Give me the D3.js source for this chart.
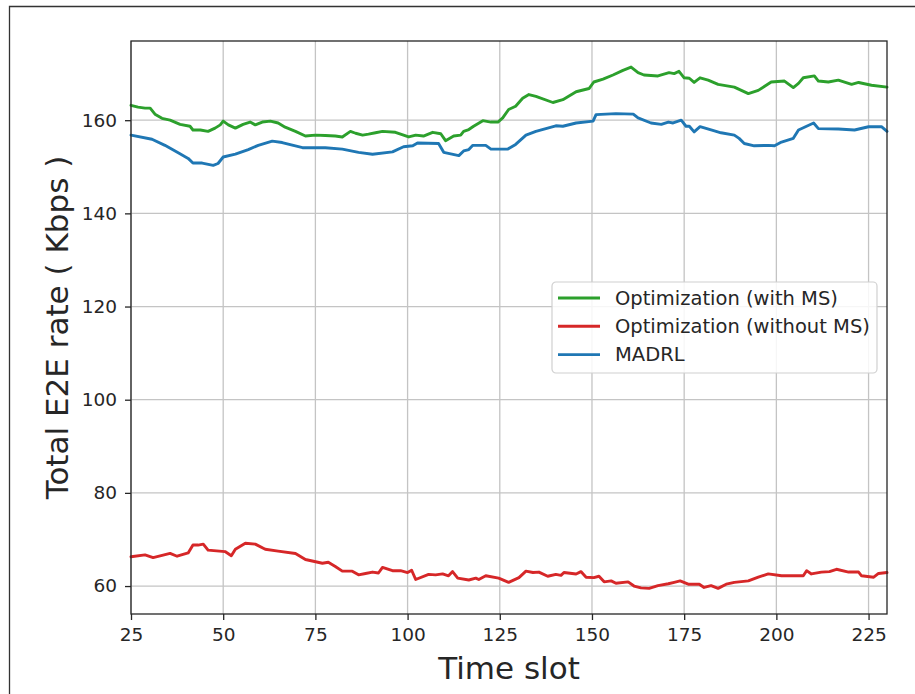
<!DOCTYPE html>
<html>
  <head>
    <meta charset="utf-8">
    <title>Total E2E rate</title>
    <style>
      body { margin: 0; background: #fff; }
      svg { display: block; font-family: "DejaVu Sans", sans-serif; }
    </style>
  </head>
  <body>
    <div id="container"></div>
    <script src="https://cdn.jsdelivr.net/npm/d3@7"></script>
    <script>
      // time slots and rates for each method
      var greenX = [25, 26.9, 28.8, 30.2, 31.5, 33.4, 35.6, 38.3, 41, 41.8, 43.8, 45.9, 47.8, 49.2, 50, 51.4, 53.3, 55.4, 57.3, 58.7,
        60.6, 62.8, 64.9, 66.8, 69.6, 72.3, 75, 77.7, 80.4, 82.3, 84.5, 85.9, 87.8, 89.4, 91.3, 93.2, 96.7, 100.3, 102.2, 104.3,
        106.8, 109, 110.3, 112.5, 114.4, 115.2, 116.6, 117.9, 120.4, 122.6, 124.5, 125.8, 127.4, 129.3, 131.2, 132.9, 134.8, 139.4, 142.1, 145.7,
        149.2, 150.5, 153, 155.7, 158.4, 160.6, 162.5, 164.1, 167.9, 170.9, 172.3, 173.6, 175, 176.4, 177.7, 179.3, 181.5, 184.2, 188.6, 192.4,
        195.1, 198.6, 202.2, 204.6, 206, 207.3, 210.3, 211.4, 214.1, 216.8, 220.4, 222.3, 225.8, 230];
      var greenY = [163.2, 162.8, 162.6, 162.6, 161.3, 160.4, 160, 159.1, 158.7, 157.9, 157.9, 157.6, 158.3, 159, 159.8, 159, 158.3, 159.1, 159.6, 159,
        159.6, 159.8, 159.4, 158.5, 157.6, 156.6, 156.8, 156.7, 156.6, 156.4, 157.6, 157.2, 156.8, 157, 157.3, 157.6, 157.4, 156.4, 156.8, 156.6,
        157.4, 157.1, 155.6, 156.6, 156.8, 157.6, 158, 158.7, 159.9, 159.6, 159.6, 160.5, 162.3, 163, 164.7, 165.5, 165.1, 163.8, 164.4, 166.1,
        166.8, 168.2, 168.8, 169.7, 170.7, 171.4, 170.2, 169.7, 169.5, 170.2, 170, 170.5, 169.1, 169, 168.1, 169.1, 168.6, 167.7, 167.1, 165.7,
        166.4, 168.2, 168.4, 167, 167.9, 169.1, 169.5, 168.4, 168.2, 168.6, 167.7, 168.1, 167.5, 167.1];

      var redX = [25, 28.8, 31, 35.6, 37.5, 40.5, 41.8, 43.2, 44.6, 45.9, 50.5, 52.2, 53.3, 56, 58.7, 61.4, 64.9, 69.6, 72.3, 76.9,
        78.5, 80.4, 82.3, 85, 86.7, 88.6, 90.5, 92.1, 93.2, 95.9, 98.1, 100, 101.1, 102.2, 105.7, 107.6, 109.5, 111.1, 112.2, 113.6,
        116.6, 118.5, 119.3, 121.2, 124.7, 127.4, 130.2, 132.1, 134, 135.6, 138, 140.2, 141.6, 142.4, 145.7, 147, 148.4, 150.5, 151.9, 153.3,
        155.2, 156.5, 159.8, 161.4, 163.3, 165.5, 167.9, 170.7, 172.3, 173.9, 176.1, 179.1, 180.4, 182.3, 184.2, 186.4, 188.6, 192.4, 195.1, 197.8,
        201.4, 207.3, 208.2, 209.5, 212.2, 214.4, 216.3, 219.6, 222.3, 223.1, 226.4, 227.7, 230];
      var redY = [66.3, 66.7, 66.1, 67, 66.4, 67.1, 68.8, 68.8, 69, 67.7, 67.4, 66.5, 67.9, 69.2, 69, 67.9, 67.5, 67, 65.7, 64.9,
        65.1, 64.2, 63.2, 63.2, 62.4, 62.7, 63, 62.8, 64, 63.3, 63.3, 62.9, 63.4, 61.4, 62.5, 62.4, 62.6, 62.2, 63.1, 61.7,
        61.3, 61.7, 61.4, 62.2, 61.7, 60.8, 61.8, 63.2, 62.9, 63, 62.1, 62.5, 62.3, 62.9, 62.6, 63.1, 61.9, 61.8, 62.1, 60.9,
        61.1, 60.6, 60.9, 60, 59.6, 59.5, 60.1, 60.5, 60.8, 61.1, 60.4, 60.4, 59.7, 60.1, 59.5, 60.4, 60.8, 61.1, 61.9, 62.6,
        62.2, 62.2, 63.3, 62.6, 63, 63.1, 63.6, 63, 63, 62.2, 61.9, 62.7, 62.9];

      var blueX = [25, 30.7, 34.2, 37.8, 40.5, 41.8, 44.3, 47.3, 48.6, 50, 53.3, 56.8, 59.5, 63.3, 66, 71.5, 77.7, 82.3, 86.7, 90.5,
        95.9, 98.9, 101.4, 102.7, 108.4, 109.8, 113.9, 115.2, 116.6, 117.7, 121.2, 122.6, 127.2, 129.3, 132.1, 134.8, 140.2, 142.1, 145.7, 150.3,
        151.1, 156.5, 161.2, 162.5, 166, 168.8, 170.7, 172, 174.2, 175.5, 176.4, 177.7, 179.3, 182.3, 185, 188.6, 189.9, 191.3, 194, 197.8,
        199.5, 201.4, 204.6, 206, 210.1, 211.4, 216.8, 221.2, 225, 228.5, 230];
      var blueY = [156.8, 155.9, 154.6, 153, 151.8, 150.8, 150.8, 150.3, 150.7, 152.1, 152.7, 153.7, 154.6, 155.5, 155.2, 154.1, 154.1, 153.8, 153.1, 152.7,
        153.2, 154.3, 154.5, 155.1, 155, 153.1, 152.4, 153.4, 153.7, 154.6, 154.6, 153.8, 153.8, 154.8, 156.8, 157.6, 158.8, 158.7, 159.4, 159.8,
        161.2, 161.4, 161.3, 160.5, 159.4, 159.1, 159.6, 159.4, 160, 158.7, 158.7, 157.5, 158.6, 157.9, 157.3, 156.8, 156.1, 155, 154.5, 154.6,
        154.5, 155.3, 156.1, 157.9, 159.4, 158.2, 158.1, 157.9, 158.6, 158.6, 157.6];

      var seriesNames = ["Optimization (with MS)", "Optimization (without MS)", "MADRL"];
      var seriesColors = ["#2ca02c", "#d62728", "#1f77b4"];
      var xTicks = [25, 50, 75, 100, 125, 150, 175, 200, 225];
      var yTicks = [60, 80, 100, 120, 140, 160];

      var series = [
        {name: seriesNames[0], color: seriesColors[0], xs: greenX, ys: greenY},
        {name: seriesNames[1], color: seriesColors[1], xs: redX, ys: redY},
        {name: seriesNames[2], color: seriesColors[2], xs: blueX, ys: blueY}
      ];

      var W = 915, H = 694;
      var margin = {top: 41, right: 28, bottom: 80, left: 131},
        width = W - margin.left - margin.right,
        height = H - margin.top - margin.bottom;

      var x = d3.scaleLinear().domain([25, 230]).range([0, width]);
      var y = d3.scaleLinear().domain([54, 177]).range([height, 0]);

      var svg = d3.select("#container").append("svg")
        .attr("width", W)
        .attr("height", H);

      svg.append("rect").attr("width", W).attr("height", H).attr("fill", "#fff");

      // figure frame
      svg.append("path")
        .attr("d", "M9.5," + H + "V6.5H" + W)
        .attr("fill", "none")
        .attr("stroke", "#333")
        .attr("stroke-width", 1.3);

      var g = svg.append("g")
        .attr("transform", "translate(" + margin.left + "," + margin.top + ")");

      // grid
      g.append("g").selectAll("line").data(xTicks).enter().append("line")
        .attr("x1", function(d) { return x(d); })
        .attr("x2", function(d) { return x(d); })
        .attr("y1", 0).attr("y2", height)
        .attr("stroke", "#c4c4c4").attr("stroke-width", 1.3);
      g.append("g").selectAll("line").data(yTicks).enter().append("line")
        .attr("y1", function(d) { return y(d); })
        .attr("y2", function(d) { return y(d); })
        .attr("x1", 0).attr("x2", width)
        .attr("stroke", "#c4c4c4").attr("stroke-width", 1.3);

      var line = d3.line()
        .x(function(d) { return x(d[0]); })
        .y(function(d) { return y(d[1]); });

      series.forEach(function(s) {
        var pts = s.xs.map(function(v, i) { return [v, s.ys[i]]; });
        g.append("path")
          .datum(pts)
          .attr("d", line)
          .attr("fill", "none")
          .attr("stroke", s.color)
          .attr("stroke-width", 2.9)
          .attr("stroke-linejoin", "round")
          .attr("stroke-linecap", "round");
      });

      // axes
      var xAxis = g.append("g")
        .attr("transform", "translate(0," + height + ")")
        .call(d3.axisBottom(x).tickValues(xTicks).tickSizeOuter(0).tickSize(6).tickPadding(8));
      var yAxis = g.append("g")
        .call(d3.axisLeft(y).tickValues(yTicks).tickSizeOuter(0).tickSize(6).tickPadding(8));
      [xAxis, yAxis].forEach(function(a) {
        a.select(".domain").remove();
        a.selectAll(".tick line").attr("stroke", "#262626").attr("stroke-width", 1.3);
        a.selectAll(".tick text")
          .attr("fill", "#262626")
          .style("font-family", "'DejaVu Sans', sans-serif")
          .style("font-size", "18.5px");
      });

      // frame around plot area
      g.append("rect")
        .attr("width", width).attr("height", height)
        .attr("fill", "none")
        .attr("stroke", "#262626")
        .attr("stroke-width", 1.3);

      // axis titles
      svg.append("text")
        .attr("x", margin.left + width / 2)
        .attr("y", 679)
        .attr("text-anchor", "middle")
        .attr("fill", "#262626")
        .style("font-size", "31px")
        .text("Time slot");
      svg.append("text")
        .attr("transform", "translate(68," + (margin.top + height / 2) + ") rotate(-90)")
        .attr("text-anchor", "middle")
        .attr("fill", "#262626")
        .style("font-size", "31px")
        .text("Total E2E rate ( Kbps )");

      // legend
      var legend = svg.append("g").attr("transform", "translate(552,282)");
      legend.append("rect")
        .attr("width", 325).attr("height", 91)
        .attr("rx", 4)
        .attr("fill", "#fff").attr("fill-opacity", 0.85)
        .attr("stroke", "#d0d0d0").attr("stroke-width", 1.2);
      series.forEach(function(s, i) {
        var row = legend.append("g").attr("transform", "translate(0," + (16 + i * 28.3) + ")");
        row.append("line")
          .attr("x1", 6).attr("x2", 48)
          .attr("stroke", s.color).attr("stroke-width", 2.9);
        row.append("text")
          .attr("x", 63).attr("dy", "0.35em")
          .attr("fill", "#262626")
          .style("font-size", "19.5px")
          .text(s.name);
      });
    </script>
  </body>
</html>
